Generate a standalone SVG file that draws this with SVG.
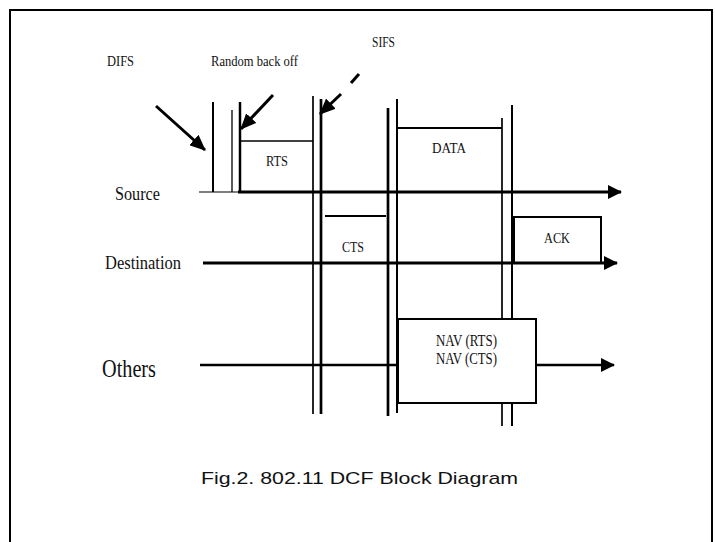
<svg xmlns="http://www.w3.org/2000/svg" width="715" height="542" viewBox="0 0 715 542">
<style>
.t{font-family:"Liberation Serif","Times New Roman",serif;fill:#111}
.c{font-family:"Liberation Sans",Arial,sans-serif;fill:#111}
.ln{stroke:#000;fill:none}
.box{stroke:#000;fill:#fff;stroke-width:2}
</style>
<defs>
<marker id="ah" markerUnits="userSpaceOnUse" markerWidth="14" markerHeight="14" refX="13" refY="7" orient="auto" viewBox="0 0 14 14">
<path d="M0,0 L14,7 L0,14 Z" fill="#000"/>
</marker>
<marker id="ah2" markerUnits="userSpaceOnUse" markerWidth="16" markerHeight="14" refX="15" refY="7" orient="auto" viewBox="0 0 16 14">
<path d="M0,0 L16,7 L0,14 Z" fill="#000"/>
</marker>
</defs>
<rect width="715" height="542" fill="#fff"/>
<path class="ln" d="M10,545 V10 H712 V545" stroke-width="2"/>

<g id="connectors">
<line class="ln" x1="199" y1="192" x2="239" y2="192" stroke-width="1.2"/>
<line class="ln" x1="238" y1="192" x2="621" y2="192" stroke-width="3" marker-end="url(#ah)"/>
<line class="ln" x1="203" y1="263" x2="617" y2="263" stroke-width="3" marker-end="url(#ah)"/>
<line class="ln" x1="200" y1="365" x2="398" y2="365" stroke-width="2.5"/>
<line class="ln" x1="536" y1="365" x2="614" y2="365" stroke-width="2.5" marker-end="url(#ah)"/>
<line class="ln" x1="213" y1="102" x2="213" y2="192" stroke-width="2"/>
<line class="ln" x1="232" y1="110" x2="232" y2="192" stroke-width="1.3"/>
<line class="ln" x1="240" y1="102" x2="240" y2="192" stroke-width="2.5"/>
<line class="ln" x1="313" y1="96" x2="313" y2="414" stroke-width="1.7"/>
<line class="ln" x1="321" y1="99" x2="321" y2="414" stroke-width="2.7"/>
<line class="ln" x1="388" y1="108" x2="388" y2="416" stroke-width="2.7"/>
<line class="ln" x1="397" y1="99" x2="397" y2="413" stroke-width="2"/>
<line class="ln" x1="502" y1="118" x2="502" y2="426" stroke-width="1.7"/>
<line class="ln" x1="512" y1="105" x2="512" y2="426" stroke-width="2"/>
<line class="ln" x1="156" y1="106" x2="205" y2="150" stroke-width="3" marker-end="url(#ah2)"/>
<line class="ln" x1="273" y1="95" x2="241" y2="129" stroke-width="3" marker-end="url(#ah2)"/>
<line class="ln" x1="359" y1="74" x2="351" y2="83" stroke-width="3"/>
<line class="ln" x1="341" y1="94" x2="320" y2="114" stroke-width="3" marker-end="url(#ah2)"/>
</g>

<g id="rts">
<path class="ln" d="M240,141 H313" stroke-width="1.7"/>
<text class="t" x="266" y="166" font-size="15" textLength="22" lengthAdjust="spacingAndGlyphs">RTS</text>
</g>
<g id="data">
<path class="ln" d="M397,128 H502" stroke-width="2"/>
<text class="t" x="432" y="153" font-size="15" textLength="34" lengthAdjust="spacingAndGlyphs">DATA</text>
</g>
<g id="cts">
<path class="ln" d="M325,216 H386" stroke-width="2"/>
<text class="t" x="342" y="252" font-size="15" textLength="22" lengthAdjust="spacingAndGlyphs">CTS</text>
</g>
<g id="ack">
<path class="ln" d="M514,263 V217 H601 V263" stroke-width="2"/>
<text class="t" x="544" y="243" font-size="15" textLength="26" lengthAdjust="spacingAndGlyphs">ACK</text>
</g>
<g id="nav">
<rect class="box" x="398" y="319" width="138" height="84"/>
<text class="t" x="436" y="346" font-size="17" textLength="61" lengthAdjust="spacingAndGlyphs">NAV (RTS)</text>
<text class="t" x="436" y="364" font-size="17" textLength="61" lengthAdjust="spacingAndGlyphs">NAV (CTS)</text>
</g>

<g id="labels">
<text class="t" x="107" y="66" font-size="15" textLength="27" lengthAdjust="spacingAndGlyphs">DIFS</text>
<text class="t" x="211" y="66" font-size="15" textLength="87" lengthAdjust="spacingAndGlyphs">Random back off</text>
<text class="t" x="372" y="47" font-size="15" textLength="23" lengthAdjust="spacingAndGlyphs">SIFS</text>
<text class="t" x="115" y="200" font-size="19" textLength="45" lengthAdjust="spacingAndGlyphs">Source</text>
<text class="t" x="105" y="269" font-size="19" textLength="76" lengthAdjust="spacingAndGlyphs">Destination</text>
<text class="t" x="102" y="377" font-size="25" textLength="54" lengthAdjust="spacingAndGlyphs">Others</text>
</g>

<g id="caption">
<text class="c" x="201" y="484" font-size="17" textLength="317" lengthAdjust="spacingAndGlyphs">Fig.2. 802.11 DCF Block Diagram</text>
</g>
</svg>
